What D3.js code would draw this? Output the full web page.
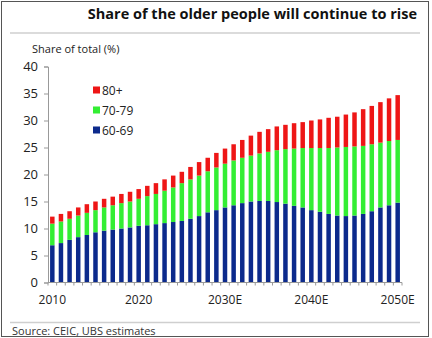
<!DOCTYPE html>
<html>
<head>
<meta charset="utf-8">
<script src="https://cdn.jsdelivr.net/npm/d3@7"></script>
<style>
  html, body { margin: 0; padding: 0; background: #fff; }
  svg { display: block; font-family: "Open Sans", "Noto Sans", sans-serif; }
</style>
</head>
<body>
<svg id="chart" width="432" height="338"></svg>
<script>
const years = d3.range(2010, 2051);
const age6069 = [6.9,7.3,7.9,8.4,8.8,9.3,9.6,9.8,10.0,10.2,
                 10.5,10.6,10.8,11.0,11.2,11.4,11.8,12.3,13.0,13.4,
                 13.9,14.3,14.7,15.0,15.1,15.1,14.9,14.6,14.2,13.9,
                 13.4,13.1,12.7,12.4,12.3,12.4,12.7,13.2,13.9,14.3,14.8];
const age7079 = [4.0,4.0,3.9,4.0,4.1,4.1,4.3,4.5,4.7,4.8,
                 5.0,5.4,5.6,6.0,6.4,7.0,7.3,7.5,7.6,7.9,
                 8.1,8.3,8.4,8.5,8.8,9.1,9.6,10.1,10.6,11.0,
                 11.5,11.8,12.2,12.6,12.8,12.8,12.6,12.4,12.0,11.9,11.6];
const age80plus = [1.3,1.4,1.4,1.5,1.6,1.6,1.6,1.6,1.7,1.8,
                   1.8,1.9,2.0,2.1,2.2,2.1,2.3,2.5,2.5,2.7,
                   2.8,3.0,3.3,3.7,4.0,4.2,4.4,4.5,4.7,4.8,
                   5.1,5.3,5.6,5.7,6.0,6.3,6.8,7.1,7.5,7.9,8.3];
const seriesNames = ["60-69", "70-79", "80+"];
const seriesColors = ["#0c2a8c", "#33ee33", "#ee1616"];
const yTicks = [0, 5, 10, 15, 20, 25, 30, 35, 40];
const xTickYears = [2010, 2020, 2030, 2040, 2050];
const xTickLabels = ["2010", "2020", "2030E", "2040E", "2050E"];
const titleText = "Share of the older people will continue to rise";
const yAxisTitle = "Share of total (%)";
const sourceText = "Source:  CEIC, UBS estimates";

const rows = years.map((y, i) => ({year: y, "60-69": age6069[i], "70-79": age7079[i], "80+": age80plus[i]}));
const stacked = d3.stack().keys(seriesNames)(rows);

const svg = d3.select("#chart");

// frame
svg.append("rect").attr("x", 1.5).attr("y", 1.5).attr("width", 427).attr("height", 335)
  .attr("fill", "none").attr("stroke", "#555").attr("stroke-width", 1);

// title
svg.append("text").attr("x", 417).attr("y", 19).attr("text-anchor", "end")
  .attr("font-weight", "bold").attr("font-size", 14.5).attr("fill", "#111").text(titleText);

// separators
svg.append("line").attr("x1", 10).attr("x2", 420).attr("y1", 33).attr("y2", 33)
  .attr("stroke", "#cfcfcf").attr("stroke-width", 1.5);
svg.append("line").attr("x1", 10).attr("x2", 420).attr("y1", 322.5).attr("y2", 322.5)
  .attr("stroke", "#cfcfcf").attr("stroke-width", 1.5);

svg.append("text").attr("x", 32).attr("y", 53).attr("font-size", 11).attr("fill", "#222").text(yAxisTitle);

const x = d3.scaleBand().domain(years).range([48, 402]).paddingInner(0.48).paddingOuter(0.24);
const y = d3.scaleLinear().domain([0, 40]).range([282.5, 66.5]);

// bars
svg.append("g").selectAll("g").data(stacked).join("g")
  .attr("fill", (d, i) => seriesColors[i])
  .selectAll("rect").data(d => d).join("rect")
  .attr("x", d => x(d.data.year))
  .attr("width", x.bandwidth())
  .attr("y", d => y(d[1]))
  .attr("height", d => y(d[0]) - y(d[1]));

// y axis
const yAxis = svg.append("g").attr("transform", "translate(48,0)")
  .call(d3.axisLeft(y).tickValues(yTicks).tickSize(4).tickPadding(6));
yAxis.select(".domain").attr("stroke", "#999");
yAxis.selectAll(".tick line").attr("stroke", "#999");
yAxis.selectAll(".tick text").attr("font-size", 13).attr("fill", "#222").attr("font-family", "Open Sans, Noto Sans, sans-serif");

// x axis
const xb = d3.scaleLinear().domain([0, years.length]).range([48, 402]);
const xAxis = svg.append("g").attr("transform", "translate(0,282.5)");
xAxis.append("line").attr("x1", 48).attr("x2", 402).attr("stroke", "#999");
xAxis.selectAll("line.tk").data(d3.range(years.length + 1)).join("line").attr("class", "tk")
  .attr("x1", d => xb(d)).attr("x2", d => xb(d)).attr("y1", 0).attr("y2", 3).attr("stroke", "#999");
xAxis.selectAll("text").data(xTickYears).join("text")
  .attr("x", d => x(d) + x.bandwidth() / 2).attr("y", 21)
  .attr("text-anchor", "middle").attr("font-size", 12).attr("fill", "#222")
  .text((d, i) => xTickLabels[i]);

// legend
const legendOrder = [2, 1, 0];
const lg = svg.append("g");
legendOrder.forEach((si, j) => {
  const cy = 90 + j * 20;
  lg.append("rect").attr("x", 93).attr("y", cy - 3.5).attr("width", 7).attr("height", 7).attr("fill", seriesColors[si]);
  lg.append("text").attr("x", 102).attr("y", cy + 4.5).attr("font-size", 12).attr("fill", "#222").text(seriesNames[si]);
});

svg.append("text").attr("x", 12).attr("y", 335).attr("font-size", 11).attr("fill", "#333").text(sourceText);
</script>
</body>
</html>
